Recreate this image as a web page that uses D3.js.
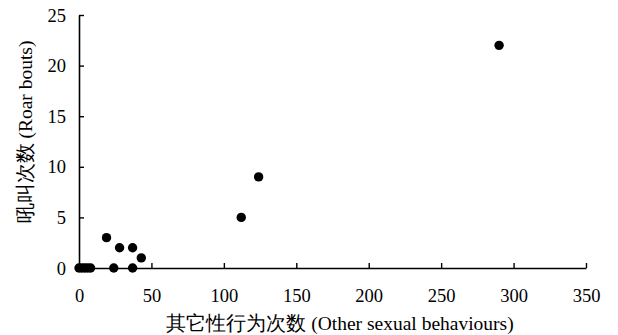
<!DOCTYPE html>
<html>
<head>
<meta charset="utf-8">
<script src="https://cdn.jsdelivr.net/npm/d3@7"></script>
</head>
<body style="margin:0;background:#fff">
<svg id="chart" width="618" height="335" style="display:block"></svg>
<script>
// Other sexual behaviours vs. roar bouts, one point per observation
const otherBehaviours = [0, 2, 4, 6, 8, 24, 37, 19, 28, 37, 43, 112, 124, 290];
const roarBouts       = [0, 0, 0, 0, 0, 0, 0, 3, 2, 2, 1, 5, 9, 22];
const xTicks = [0, 50, 100, 150, 200, 250, 300, 350];
const yTicks = [0, 5, 10, 15, 20, 25];

const FONT = "Liberation Serif";

const svg = d3.select("#chart")
  .attr("font-family", FONT);
const plot = { left: 79, right: 586, top: 15, bottom: 268 };

const x = d3.scaleLinear().domain([0, 350]).range([plot.left, plot.right]);
const y = d3.scaleLinear().domain([0, 25]).range([plot.bottom, plot.top]);

// x axis, ticks pointing inward (up)
const gx = svg.append("g").attr("transform", `translate(0,${plot.bottom})`)
  .call(d3.axisBottom(x).tickValues(xTicks).tickSizeInner(-5).tickSizeOuter(0));
// y axis, ticks pointing inward (right)
const gy = svg.append("g").attr("transform", `translate(${plot.left},0)`)
  .call(d3.axisLeft(y).tickValues(yTicks).tickSizeInner(-5).tickSizeOuter(0));

[gx, gy].forEach(g => {
  g.attr("font-family", FONT).attr("font-size", 18.5);
  g.select(".domain").attr("stroke", "#000").attr("stroke-width", 1.6);
  g.selectAll(".tick line").attr("stroke", "#000").attr("stroke-width", 1.4);
  g.selectAll(".tick text").attr("font-family", FONT).attr("font-size", 18.5).attr("fill", "#000");
});
gx.selectAll(".tick text").attr("y", 34).attr("dy", null);
gy.selectAll(".tick text").attr("x", -13).attr("dy", "0.33em");
gy.selectAll(".tick").filter(d => d === 0).select("line").remove();
gx.selectAll(".tick").filter(d => d === 0).select("line").remove();

// points
svg.append("g").selectAll("circle")
  .data(otherBehaviours.map((v, i) => [v, roarBouts[i]]))
  .join("circle")
  .attr("cx", d => x(d[0]))
  .attr("cy", d => y(d[1]))
  .attr("r", 4.7)
  .attr("fill", "#000");

// axis titles
svg.append("text")
  .attr("x", 340).attr("y", 330).attr("text-anchor", "middle")
  .attr("font-family", FONT).attr("font-size", 19.5).attr("fill", "#000")
  .text("其它性行为次数 (Other sexual behaviours)");

svg.append("text")
  .attr("transform", "translate(32,132) rotate(-90)")
  .attr("text-anchor", "middle")
  .attr("font-family", FONT).attr("font-size", 19.5).attr("fill", "#000")
  .text("吼叫次数 (Roar bouts)");
</script>
</body>
</html>
